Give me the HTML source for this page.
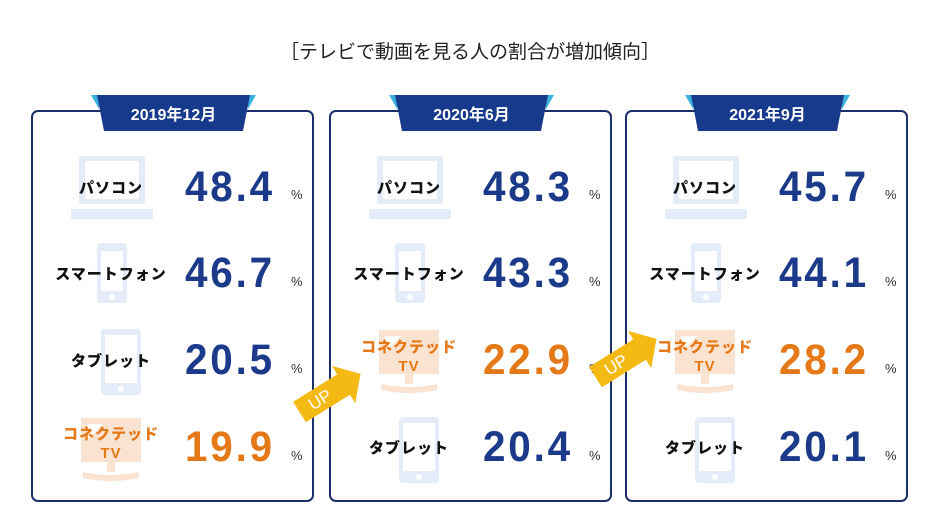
<!DOCTYPE html><html><head><meta charset="utf-8"><style>
body{margin:0;background:#fff;width:940px;height:529px;position:relative;overflow:hidden;font-family:"Liberation Sans","Noto Sans CJK JP",sans-serif}
.t{position:absolute;left:0;width:940px;top:37px;text-align:center;font-size:19px;color:#222}
.p{position:absolute;top:110px;width:279px;height:388px;border:2px solid #1c2f6b;border-radius:7px}
.h{position:absolute;left:58px;top:-17px;width:165px;height:36px}
.h span{position:absolute;left:0;right:0;top:6px;text-align:center;color:#fff;font-size:16px;font-weight:bold}
.lb{position:absolute;width:160px;left:-2px;text-align:center;font-weight:900;font-size:15px;color:#111;letter-spacing:1px}
.n{position:absolute;left:152px;font-size:43px;color:#1c3a8a;letter-spacing:3px;font-weight:bold;transform:scaleX(0.94);transform-origin:left}
.pc{position:absolute;left:258px;font-size:13px;color:#333}
.o{color:#e57817}
.ic{position:absolute}
</style></head><body>
<div class="t">［テレビで動画を見る人の割合が増加傾向］</div>

<div class="p" style="left:31px">
<svg class="h" viewBox="0 0 165 36"><polygon points="0,0 8,0 8,14" fill="#3bb3e0"/><polygon points="165,0 157,0 157,14" fill="#3bb3e0"/><polygon points="6,0 159,0 152,36 13,36" fill="#183a8c"/></svg><div class="h"><span>2019年12月</span></div>
<svg class="ic" style="left:38px;top:44px" width="82" height="64"><rect x="8" y="0" width="66" height="48" rx="3" fill="#e3ecf8"/><rect x="14" y="5" width="54" height="38" fill="#fff"/><rect x="0" y="53" width="82" height="10" rx="2" fill="#e3ecf8"/></svg>
<svg class="ic" style="left:64px;top:131px" width="30" height="60"><rect x="0" y="0" width="30" height="60" rx="4" fill="#e3ecf8"/><rect x="4" y="8" width="22" height="40" fill="#fff"/><circle cx="15" cy="54" r="3" fill="#fff"/></svg>
<svg class="ic" style="left:68px;top:217px" width="40" height="66"><rect width="40" height="66" rx="4" fill="#e3ecf8"/><rect x="4" y="6" width="32" height="48" fill="#fff"/><circle cx="20" cy="60" r="3" fill="#fff"/></svg>
<svg class="ic" style="left:46px;top:306px" width="64" height="64"><rect x="2" y="0" width="60" height="44" fill="#fbe3d2"/><polygon points="8,6 24,6 8,22" fill="#fff"/><rect x="28" y="44" width="8" height="10" fill="#fbe3d2"/><path d="M4 54 Q32 60 60 54 L60 60 Q32 66 4 60Z" fill="#fbe3d2"/></svg>
<div class="lb" style="top:65px">パソコン</div><div class="n" style="top:51px">48.4</div><div class="pc" style="top:75px">%</div>
<div class="lb" style="top:151px">スマートフォン</div><div class="n" style="top:137px">46.7</div><div class="pc" style="top:162px">%</div>
<div class="lb" style="top:238px">タブレット</div><div class="n" style="top:224px">20.5</div><div class="pc" style="top:249px">%</div>
<div class="lb o" style="top:313px;line-height:19px">コネクテッド<br>TV</div><div class="n o" style="top:311px">19.9</div><div class="pc" style="top:336px">%</div>
</div>

<div class="p" style="left:329px">
<svg class="h" viewBox="0 0 165 36"><polygon points="0,0 8,0 8,14" fill="#3bb3e0"/><polygon points="165,0 157,0 157,14" fill="#3bb3e0"/><polygon points="6,0 159,0 152,36 13,36" fill="#183a8c"/></svg><div class="h"><span>2020年6月</span></div>
<svg class="ic" style="left:38px;top:44px" width="82" height="64"><rect x="8" y="0" width="66" height="48" rx="3" fill="#e3ecf8"/><rect x="14" y="5" width="54" height="38" fill="#fff"/><rect x="0" y="53" width="82" height="10" rx="2" fill="#e3ecf8"/></svg>
<svg class="ic" style="left:64px;top:131px" width="30" height="60"><rect x="0" y="0" width="30" height="60" rx="4" fill="#e3ecf8"/><rect x="4" y="8" width="22" height="40" fill="#fff"/><circle cx="15" cy="54" r="3" fill="#fff"/></svg>
<svg class="ic" style="left:46px;top:218px" width="64" height="64"><rect x="2" y="0" width="60" height="44" fill="#fbe3d2"/><polygon points="8,6 24,6 8,22" fill="#fff"/><rect x="28" y="44" width="8" height="10" fill="#fbe3d2"/><path d="M4 54 Q32 60 60 54 L60 60 Q32 66 4 60Z" fill="#fbe3d2"/></svg>
<svg class="ic" style="left:68px;top:305px" width="40" height="66"><rect width="40" height="66" rx="4" fill="#e3ecf8"/><rect x="4" y="6" width="32" height="48" fill="#fff"/><circle cx="20" cy="60" r="3" fill="#fff"/></svg>
<div class="lb" style="top:65px">パソコン</div><div class="n" style="top:51px">48.3</div><div class="pc" style="top:75px">%</div>
<div class="lb" style="top:151px">スマートフォン</div><div class="n" style="top:137px">43.3</div><div class="pc" style="top:162px">%</div>
<div class="lb o" style="top:226px;line-height:19px">コネクテッド<br>TV</div><div class="n o" style="top:224px">22.9</div><div class="pc" style="top:249px">%</div>
<div class="lb" style="top:325px">タブレット</div><div class="n" style="top:311px">20.4</div><div class="pc" style="top:336px">%</div>
</div>

<div class="p" style="left:625px">
<svg class="h" viewBox="0 0 165 36"><polygon points="0,0 8,0 8,14" fill="#3bb3e0"/><polygon points="165,0 157,0 157,14" fill="#3bb3e0"/><polygon points="6,0 159,0 152,36 13,36" fill="#183a8c"/></svg><div class="h"><span>2021年9月</span></div>
<svg class="ic" style="left:38px;top:44px" width="82" height="64"><rect x="8" y="0" width="66" height="48" rx="3" fill="#e3ecf8"/><rect x="14" y="5" width="54" height="38" fill="#fff"/><rect x="0" y="53" width="82" height="10" rx="2" fill="#e3ecf8"/></svg>
<svg class="ic" style="left:64px;top:131px" width="30" height="60"><rect x="0" y="0" width="30" height="60" rx="4" fill="#e3ecf8"/><rect x="4" y="8" width="22" height="40" fill="#fff"/><circle cx="15" cy="54" r="3" fill="#fff"/></svg>
<svg class="ic" style="left:46px;top:218px" width="64" height="64"><rect x="2" y="0" width="60" height="44" fill="#fbe3d2"/><polygon points="8,6 24,6 8,22" fill="#fff"/><rect x="28" y="44" width="8" height="10" fill="#fbe3d2"/><path d="M4 54 Q32 60 60 54 L60 60 Q32 66 4 60Z" fill="#fbe3d2"/></svg>
<svg class="ic" style="left:68px;top:305px" width="40" height="66"><rect width="40" height="66" rx="4" fill="#e3ecf8"/><rect x="4" y="6" width="32" height="48" fill="#fff"/><circle cx="20" cy="60" r="3" fill="#fff"/></svg>
<div class="lb" style="top:65px">パソコン</div><div class="n" style="top:51px">45.7</div><div class="pc" style="top:75px">%</div>
<div class="lb" style="top:151px">スマートフォン</div><div class="n" style="top:137px">44.1</div><div class="pc" style="top:162px">%</div>
<div class="lb o" style="top:226px;line-height:19px">コネクテッド<br>TV</div><div class="n o" style="top:224px">28.2</div><div class="pc" style="top:249px">%</div>
<div class="lb" style="top:325px">タブレット</div><div class="n" style="top:311px">20.1</div><div class="pc" style="top:336px">%</div>
</div>

<svg style="position:absolute;left:288px;top:355px" width="84" height="74"><g transform="translate(42,38) rotate(-32)"><polygon points="-36,-12 16,-12 16,-22 36,0 16,22 16,12 -36,12" fill="#f5b914"/><text x="-12" y="6" fill="#fff" font-size="17" font-family="Liberation Sans" text-anchor="middle">UP</text></g></svg>
<svg style="position:absolute;left:584px;top:320px" width="84" height="74"><g transform="translate(42,38) rotate(-32)"><polygon points="-36,-12 16,-12 16,-22 36,0 16,22 16,12 -36,12" fill="#f5b914"/><text x="-12" y="6" fill="#fff" font-size="17" font-family="Liberation Sans" text-anchor="middle">UP</text></g></svg>
</body></html>
